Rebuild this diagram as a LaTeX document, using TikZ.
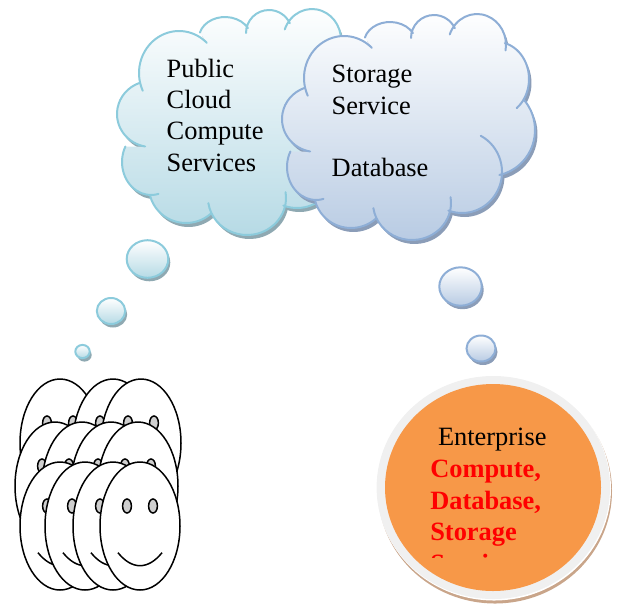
\documentclass[tikz,border=0pt]{standalone}
\usepackage{fontspec}
\setmainfont{Liberation Serif}
\definecolor{tealedge}{HTML}{8CCBDC}
\definecolor{tealfill}{HTML}{B6DAE5}
\definecolor{tealshadow}{HTML}{8FA9B2}
\definecolor{blueedge}{HTML}{8EAED6}
\definecolor{bluefill}{HTML}{B8CBE3}
\definecolor{blueshadow}{HTML}{8B9DB8}
\definecolor{discorange}{HTML}{F79848}
\definecolor{discring}{HTML}{F0F0F0}
\definecolor{discshadow}{HTML}{C9A58A}
\definecolor{eyegray}{HTML}{CFCFCF}
\tikzset{
  label/.style={inner sep=0pt,outer sep=0pt,anchor=north west,align=left,font=\fontsize{26.4}{31.3}\selectfont},
  redlabel/.style={label,text=red,font=\fontsize{26.4}{31.5}\selectfont\bfseries},
  faceline/.style={draw=black,line width=1.5pt},
}
% #1 connector, #2 cx, #3 cy, #4 rx, #5 ry, #6 start angle, #7 end angle
\newcommand{\clobe}[7]{#1 ({#2+#4*cos(#6)},{#3+#5*sin(#6)}) arc[start angle=#6,end angle=#7,x radius=#4,y radius=#5]}
\newcommand{\cloudlobes}[1]{%
  \clobe{}{344}{78}{40}{42}{155}{314}
  \clobe{#1}{390}{43}{26}{21}{195}{332}
  \clobe{#1}{434}{38}{23}{23}{180}{335}
  \clobe{#1}{477}{45}{29}{31}{200}{370}
  \clobe{#1}{497}{79}{32}{37}{284}{412}
  \clobe{#1}{490}{130}{45}{46}{318}{438}
  \clobe{#1}{462}{172}{40}{41}{298}{470}
  \clobe{#1}{412}{203}{39}{37}{-9}{172}
  \clobe{#1}{351}{192}{37}{36}{48}{165}
  \clobe{#1}{316}{167}{29}{33}{75}{208}
  \clobe{#1}{316}{119}{34}{33}{100}{250}
}
% #1 shift x, #2 shift y, #3 edge, #4 fill, #5 shadow
\newcommand{\cloudshape}[5]{%
  \begin{scope}[shift={(#1,#2)}]
    \fill[#5,shift={(2.5,4)}] \cloudlobes{--} -- cycle;
    \shade[top color=white,bottom color=#4] \cloudlobes{--} -- cycle;
    \draw[#3,line width=2pt,line cap=round,line join=round] \cloudlobes{};
  \end{scope}}
% #1 cx, #2 cy, #3 rx, #4 ry, #5 edge, #6 fill, #7 shadow
\newcommand{\bubble}[7]{%
  \fill[#7] (#1+2,#2+3.5) ellipse [x radius=#3,y radius=#4];
  \shade[top color=white,bottom color=#6,draw=#5,line width=2pt] (#1,#2) ellipse [x radius=#3,y radius=#4];}
\newcommand{\smiley}[2]{%
  \begin{scope}[shift={(#1,#2)}]
    \draw[faceline,fill=white] (0,0) ellipse [x radius=40,y radius=64];
    \draw[faceline,fill=eyegray] (-13,-20) ellipse [x radius=4.4,y radius=7];
    \draw[faceline,fill=eyegray] (13,-20) ellipse [x radius=4.4,y radius=7];
    \draw[faceline] (-22,26.7) .. controls (-8,44) and (8,44) .. (22,26.7);
  \end{scope}}
\begin{document}
\begin{tikzpicture}[x=1pt,y=-1pt]
\useasboundingbox (0,0) rectangle (617,603);
% clouds
\cloudshape{-165}{-5}{tealedge}{tealfill}{tealshadow}
\cloudshape{0}{0}{blueedge}{bluefill}{blueshadow}
\node[label] (publictext) at (166.7,59) {Public\\Cloud\\Compute\\Services};
\node[label] (storagetext) at (331.7,65.5) {Storage\\Service\\~\\Database};
% bubbles
\bubble{147.5}{259}{20.8}{18.8}{tealedge}{tealfill}{tealshadow}
\bubble{111}{311}{14.2}{13}{tealedge}{tealfill}{tealshadow}
\bubble{82.5}{351.5}{7.2}{6.6}{tealedge}{tealfill}{tealshadow}
\bubble{460.5}{286.5}{21.2}{19.2}{blueedge}{bluefill}{blueshadow}
\bubble{481}{348.5}{14.5}{13}{blueedge}{bluefill}{blueshadow}
% faces
\smiley{60}{443}\smiley{113}{443}\smiley{141}{443}
\smiley{55}{486}\smiley{82}{486}\smiley{111}{486}\smiley{138}{486}
\smiley{60}{526}\smiley{85}{526}\smiley{113}{526}\smiley{140}{526}
% enterprise disc
\fill[discshadow] (495,491) ellipse [x radius=117,y radius=112.5];
\fill[white] (494,488.5) ellipse [x radius=117,y radius=112];
\fill[discring] (493.3,487.5) ellipse [x radius=116.7,y radius=111.5];
\fill[discorange] (493,487.5) ellipse [x radius=108,y radius=103.5];
\node[label] (enterprisetext) at (438,428.5) {Enterprise};
\begin{scope}
  \clip (380,455) rectangle (610,557.5);
  \node[redlabel] (redtext) at (430.3,460.5) {Compute,\\Database,\\Storage\\Services};
\end{scope}
\end{tikzpicture}
\end{document}
